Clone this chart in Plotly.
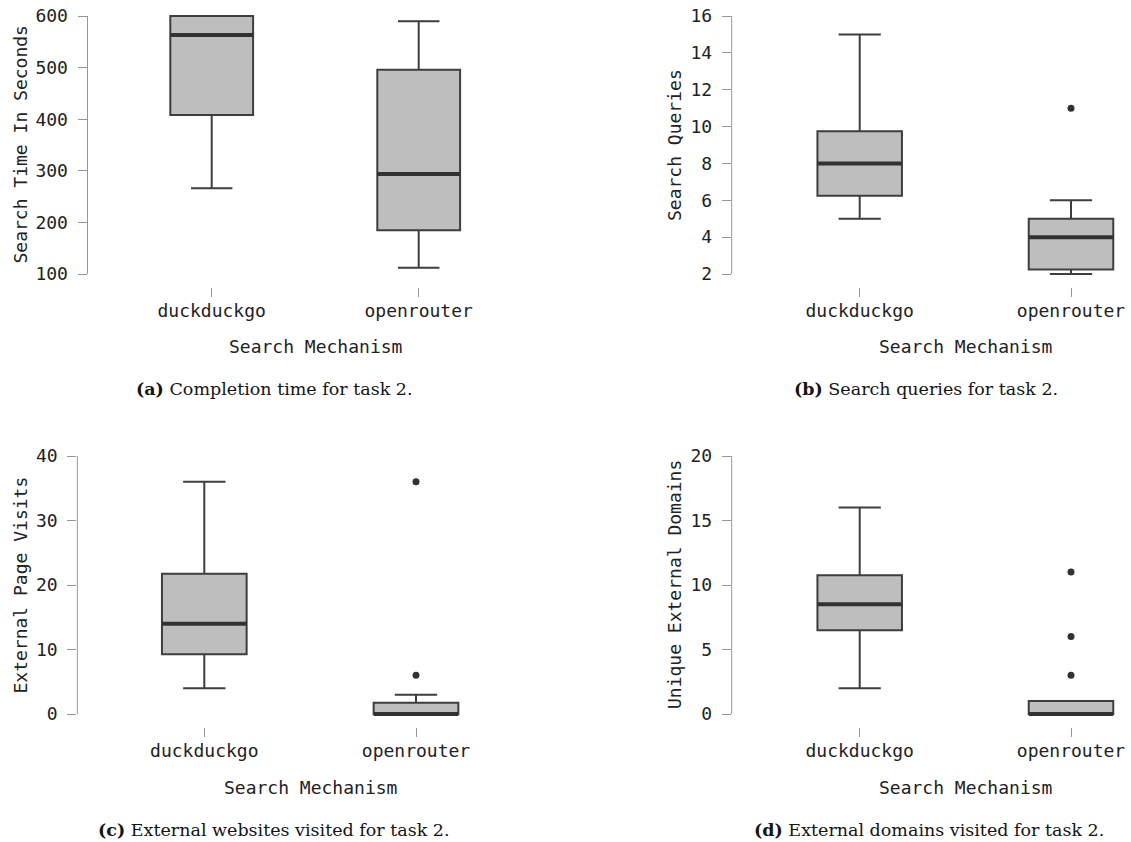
import plotly.graph_objects as go

W, H = 1131, 842

categories = ["duckduckgo", "openrouter"]

# Panel (a): completion time
time_q1 = [408, 185]
time_median = [563, 294]
time_q3 = [600, 496]
time_lower = [266, 112]
time_upper = [600, 590]
time_outliers = [[], []]
time_ticks = [100, 200, 300, 400, 500, 600]

# Panel (b): search queries
query_q1 = [6.25, 2.25]
query_median = [8, 4]
query_q3 = [9.75, 5]
query_lower = [5, 2]
query_upper = [15, 6]
query_outliers = [[], [11]]
query_ticks = [2, 4, 6, 8, 10, 12, 14, 16]

# Panel (c): external page visits
visit_q1 = [9.25, 0]
visit_median = [14, 0]
visit_q3 = [21.75, 1.75]
visit_lower = [4, 0]
visit_upper = [36, 3]
visit_outliers = [[], [6, 36]]
visit_ticks = [0, 10, 20, 30, 40]

# Panel (d): unique external domains
domain_q1 = [6.5, 0]
domain_median = [8.5, 0]
domain_q3 = [10.75, 1]
domain_lower = [2, 0]
domain_upper = [16, 1]
domain_outliers = [[], [3, 6, 11]]
domain_ticks = [0, 5, 10, 15, 20]

y_titles = ["Search Time In Seconds", "Search Queries",
            "External Page Visits", "Unique External Domains"]
x_title = "Search Mechanism"
captions = [("(a)", "Completion time for task 2."),
            ("(b)", "Search queries for task 2."),
            ("(c)", "External websites visited for task 2."),
            ("(d)", "External domains visited for task 2.")]

panels = [
    dict(q1=time_q1, med=time_median, q3=time_q3, lo=time_lower, hi=time_upper,
         out=time_outliers, ticks=time_ticks),
    dict(q1=query_q1, med=query_median, q3=query_q3, lo=query_lower, hi=query_upper,
         out=query_outliers, ticks=query_ticks),
    dict(q1=visit_q1, med=visit_median, q3=visit_q3, lo=visit_lower, hi=visit_upper,
         out=visit_outliers, ticks=visit_ticks),
    dict(q1=domain_q1, med=domain_median, q3=domain_q3, lo=domain_lower, hi=domain_upper,
         out=domain_outliers, ticks=domain_ticks),
]

# layout geometry in pixels: (axis x, first category x, second category x, top tick y, bottom tick y)
geom = [
    (87.5, 211.7, 418.7, 16, 274),
    (731.7, 859.7, 1071.0, 16, 274),
    (77.3, 204.3, 416.0, 456, 714),
    (731.7, 859.7, 1071.0, 456, 714),
]
ytitle_x = [19.5, 674, 19.5, 674]
caption_xy = [(274, 389), (926, 389), (274, 830), (929, 830)]

MONO = "DejaVu Sans Mono"
SERIF = "DejaVu Serif"
FS = 18
BOX_FILL = "rgb(190,190,190)"
DARK = "rgb(62,62,62)"
SPINE = "rgb(150,150,150)"

fig = go.Figure()
layout = dict(
    width=W, height=H, margin=dict(l=0, r=0, t=0, b=0),
    plot_bgcolor="white", paper_bgcolor="white", showlegend=False,
    font=dict(family=MONO, size=FS, color="rgb(34,34,34)"),
)
shapes = []
annotations = []

for i, (p, g) in enumerate(zip(panels, geom)):
    n = "" if i == 0 else str(i + 1)
    xa, ya = "x" + n, "y" + n
    ax0, c0, c1, ty0, ty1 = g
    unit = c1 - c0
    xlo = -(c0 - ax0) / unit
    xhi = min(1.5, (1130 - ax0) / unit + xlo)
    xr = [xlo, xhi]
    x_right = ax0 + (xhi - xlo) * unit

    t0, t1 = p["ticks"][0], p["ticks"][-1]
    ppu = (ty1 - ty0) / (t1 - t0)
    top_px, bot_px = ty0 - 10, ty1 + 13
    yr = [t0 - 13 / ppu, t1 + 10 / ppu]

    pos = list(range(len(categories)))
    fig.add_trace(go.Box(
        x=pos, q1=p["q1"], median=p["med"], q3=p["q3"],
        lowerfence=p["lo"], upperfence=p["hi"],
        width=0.4, whiskerwidth=0.5, boxpoints=False,
        fillcolor=BOX_FILL, line=dict(color=DARK, width=2),
        xaxis=xa, yaxis=ya, hoverinfo="skip",
    ))
    # thicker median lines
    mx, my = [], []
    for k, m in enumerate(p["med"]):
        mx += [k - 0.2, k + 0.2, None]
        my += [m, m, None]
    fig.add_trace(go.Scatter(x=mx, y=my, mode="lines",
                             line=dict(color="rgb(50,50,50)", width=4),
                             xaxis=xa, yaxis=ya, hoverinfo="skip", cliponaxis=False))
    ox, oy = [], []
    for k, outs in enumerate(p["out"]):
        for v in outs:
            ox.append(k)
            oy.append(v)
    if ox:
        fig.add_trace(go.Scatter(x=ox, y=oy, mode="markers",
                                 marker=dict(color="rgb(50,50,50)", size=7),
                                 xaxis=xa, yaxis=ya, hoverinfo="skip"))

    layout["xaxis" + n] = dict(
        domain=[ax0 / W, x_right / W], range=xr, anchor=ya,
        tickmode="array", tickvals=pos, ticktext=categories,
        ticks="outside", ticklen=9, tickcolor=SPINE, tickwidth=1,
        showline=False, showgrid=False, zeroline=False,
        tickfont=dict(family=MONO, size=FS, color="rgb(34,34,34)"),
        ticklabelstandoff=-2,
    )
    layout["yaxis" + n] = dict(
        domain=[1 - bot_px / H, 1 - top_px / H], range=yr, anchor=xa,
        tickmode="array", tickvals=p["ticks"],
        ticks="outside", ticklen=9, tickcolor=SPINE, tickwidth=1,
        showline=False, showgrid=False, zeroline=False,
        tickfont=dict(family=MONO, size=FS, color="rgb(34,34,34)"),
        ticklabelstandoff=6,
    )
    shapes.append(dict(type="line", xref=xa + " domain", yref=ya,
                       x0=0, x1=0, y0=t0, y1=t1,
                       line=dict(color=SPINE, width=1)))
    # axis titles
    annotations.append(dict(text=x_title, xref=xa, yref="paper", x=0.5,
                            y=1 - (ty1 + 73) / H, xanchor="center", yanchor="middle",
                            showarrow=False, font=dict(family=MONO, size=FS, color="rgb(34,34,34)")))
    annotations.append(dict(text=y_titles[i], xref="paper", yref="paper",
                            x=ytitle_x[i] / W, y=1 - ((ty0 + ty1) / 2) / H,
                            xanchor="center", yanchor="middle", textangle=-90,
                            showarrow=False, font=dict(family=MONO, size=FS, color="rgb(34,34,34)")))
    lab, cap = captions[i]
    cx, cy = caption_xy[i]
    annotations.append(dict(text="<b>" + lab + "</b> " + cap, xref="paper", yref="paper",
                            x=cx / W, y=1 - cy / H, xanchor="center", yanchor="middle",
                            showarrow=False, font=dict(family=SERIF, size=17.5, color="rgb(20,20,20)")))

layout["shapes"] = shapes
layout["annotations"] = annotations
fig.update_layout(**layout)
fig.write_html("out.html")
